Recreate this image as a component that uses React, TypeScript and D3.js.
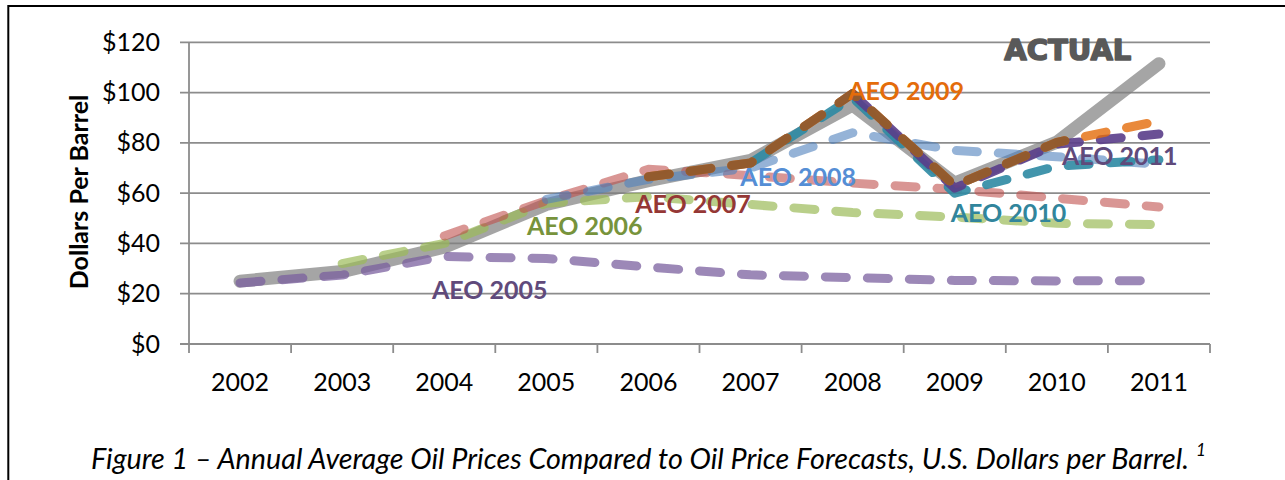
import React, { useMemo } from 'react'
import * as d3 from 'd3'

// 年份與數據（美元/桶）
const years = ['2002', '2003', '2004', '2005', '2006', '2007', '2008', '2009', '2010', '2011']
const yTicks = [0, 20, 40, 60, 80, 100, 120]

type V = number | null

const actual: V[] = [25, 28.8, 38.5, 55.5, 65, 73, 95, 64, 80.3, 111.5]
const aeo2005: V[] = [24.3, 27.4, 34.8, 34.0, 30.6, 27.5, 26.4, 25.3, 25.1, 25.2]
const aeo2006: V[] = [null, 32, 40, 56, 58.6, 55.5, 52.3, 50.5, 48, 47.5]
const aeo2007: V[] = [null, null, 43, 57, 69.5, 67, 64, 61.5, 58, 54.5]
const aeo2008: V[] = [null, null, null, 57.5, 65.5, 70, 84, 77, 74.5, 71.5]
const aeo2009: V[] = [null, null, null, null, 66.5, 72, 99.6, 63, 80.2, 88.7]
const aeo2010: V[] = [null, null, null, null, null, 72, 98, 60, 70.7, 73.3]
const aeo2011: V[] = [null, null, null, null, null, null, 99.6, 62, 79.5, 83.5]

// 繪製順序：灰色實際值先畫，其餘預測線疊加
const forecasts = [
  { name: 'AEO 2005', values: aeo2005, color: '#7a5e9e', opacity: 0.74 },
  { name: 'AEO 2006', values: aeo2006, color: '#9bbb59', opacity: 0.7 },
  { name: 'AEO 2007', values: aeo2007, color: '#c0504d', opacity: 0.6 },
  { name: 'AEO 2008', values: aeo2008, color: '#4f81bd', opacity: 0.6 },
  { name: 'AEO 2010', values: aeo2010, color: '#2e8aa3', opacity: 0.9 },
  { name: 'AEO 2011', values: aeo2011, color: '#5a3d8a', opacity: 0.9 },
  { name: 'AEO 2009', values: aeo2009, color: '#e46c0a', opacity: 0.8 },
]
// AEO 2009 與其他線重疊處呈褐色（至 2010 為止）
const overlapEnd = '2010'

// 標籤位置：以類別索引與數值表示
const labels = [
  { text: 'AEO 2005', idx: 1.88, value: 17.7, color: '#604a7b' },
  { text: 'AEO 2006', idx: 2.81, value: 43.4, color: '#77933c' },
  { text: 'AEO 2007', idx: 3.87, value: 52.3, color: '#953735' },
  { text: 'AEO 2008', idx: 4.9, value: 62.8, color: '#558ed5' },
  { text: 'AEO 2009', idx: 5.957, value: 97.1, color: '#e46c0a' },
  { text: 'AEO 2010', idx: 6.96, value: 48.7, color: '#31859c' },
  { text: 'AEO 2011', idx: 8.05, value: 71.2, color: '#604a7b' },
]
const actualLabel = { text: 'ACTUAL', idx: 7.485, value: 112.8 }

const W = 1285
const H = 480
const plot = { left: 189, right: 1210, top: 42.3, bottom: 344 }
const font = 'Lato, "Noto Sans", sans-serif'

export default function App() {
  const x = useMemo(
    () => d3.scaleBand<string>().domain(years).range([plot.left, plot.right]).padding(0),
    []
  )
  const y = useMemo(
    () => d3.scaleLinear().domain([0, 120]).range([plot.bottom, plot.top]),
    []
  )
  const bw = x.bandwidth()
  const xIdx = d3
    .scaleLinear()
    .domain([0, years.length - 1])
    .range([x(years[0])! + bw / 2, x(years[years.length - 1])! + bw / 2])

  const line = d3
    .line<V>()
    .defined(d => d != null)
    .x((_, i) => x(years[i])! + bw / 2)
    .y(d => y(d as number))

  const gridColor = '#8c8c8c'
  const brownClipW = x(overlapEnd)! + bw / 2 + 14 - plot.left

  return (
    <svg
      width={W}
      height={H}
      style={{ position: 'absolute', left: 0, top: 0, background: '#fff' }}
    >
      <defs>
        <clipPath id="overlap-clip">
          <rect x={plot.left} y={0} width={brownClipW} height={H} />
        </clipPath>
      </defs>
      <rect x={0} y={0} width={W} height={H} fill="#fff" />
      {/* 外框 */}
      <rect x={8.3} y={6} width={1400} height={700} fill="none" stroke="#000" strokeWidth={2} />

      {/* 格線與刻度 */}
      {yTicks.map(t => (
        <g key={t}>
          <line
            x1={plot.left - 9}
            x2={plot.right}
            y1={y(t)}
            y2={y(t)}
            stroke={gridColor}
            strokeWidth={1.8}
          />
          <text
            x={160}
            y={y(t) + 8.5}
            textAnchor="end"
            fontFamily={font}
            fontSize={25}
            fill="#000"
          >
            ${t}
          </text>
        </g>
      ))}
      <line x1={plot.left} x2={plot.left} y1={plot.top} y2={plot.bottom} stroke={gridColor} strokeWidth={1.8} />
      {d3.range(years.length + 1).map(i => (
        <line
          key={i}
          x1={plot.left + i * bw}
          x2={plot.left + i * bw}
          y1={plot.bottom}
          y2={plot.bottom + 9}
          stroke={gridColor}
          strokeWidth={1.8}
        />
      ))}
      {years.map(yr => (
        <text
          key={yr}
          x={x(yr)! + bw / 2}
          y={391}
          textAnchor="middle"
          fontFamily={font}
          fontSize={25}
          fill="#000"
        >
          {yr}
        </text>
      ))}

      {/* Y 軸標題 */}
      <text
        transform={`translate(88, 192) rotate(-90)`}
        textAnchor="middle"
        fontFamily={font}
        fontWeight={700}
        fontSize={25}
        fill="#000"
      >
        Dollars Per Barrel
      </text>

      {/* 實際值 */}
      <path
        d={line(actual) ?? ''}
        fill="none"
        stroke="#7f7f7f"
        strokeOpacity={0.7}
        strokeWidth={13}
        strokeLinecap="round"
        strokeLinejoin="round"
      />

      {/* 預測線 */}
      {forecasts.map(f => (
        <path
          key={f.name}
          d={line(f.values) ?? ''}
          fill="none"
          stroke={f.color}
          strokeOpacity={f.opacity}
          strokeWidth={9}
          strokeDasharray="21 21"
          strokeLinecap="round"
          strokeLinejoin="round"
        />
      ))}
      {/* AEO 2009 重疊段的深褐色 */}
      <path
        d={line(aeo2009) ?? ''}
        clipPath="url(#overlap-clip)"
        fill="none"
        stroke="#8f5a2e"
        strokeOpacity={0.95}
        strokeWidth={9}
        strokeDasharray="21 21"
        strokeLinecap="round"
        strokeLinejoin="round"
      />

      {/* 標籤 */}
      {labels.map(l => (
        <text
          key={l.text}
          x={xIdx(l.idx)}
          y={y(l.value)}
          fontFamily={font}
          fontWeight={700}
          fontSize={25}
          fill={l.color}
        >
          {l.text}
        </text>
      ))}
      <text
        x={xIdx(actualLabel.idx)}
        y={y(actualLabel.value)}
        fontFamily='"DejaVu Sans", sans-serif'
        fontWeight={700}
        fontSize={29}
        fill="#595959"
        stroke="#595959"
        strokeWidth={1.6}
        strokeLinejoin="round"
      >
        {actualLabel.text}
      </text>

      {/* 圖說 */}
      <text x={91} y={469} fontFamily={font} fontStyle="italic" fontSize={28} fill="#000">
        <tspan textLength={1098} lengthAdjust="spacingAndGlyphs">
          Figure 1 – Annual Average Oil Prices Compared to Oil Price Forecasts, U.S. Dollars per Barrel.
        </tspan>
        <tspan x={1196} dy={-13} fontSize={17}>1</tspan>
      </text>
    </svg>
  )
}
